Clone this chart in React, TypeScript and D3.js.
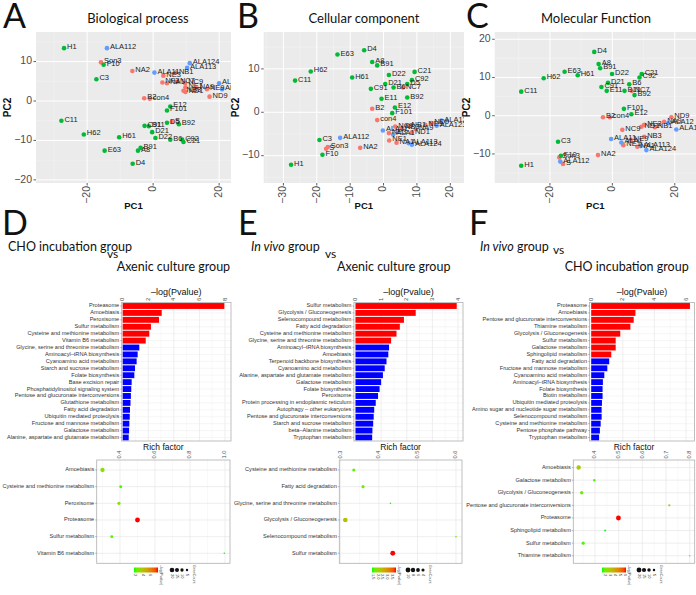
import React from "react";
import * as d3 from "d3";

const GREEN = "#00BA38";
const RED = "#F8766D";
const BLUE = "#619CFF";
const SANS = "'Liberation Sans', Arial, sans-serif";
const TITLE_FONT = "Lato, 'Open Sans', sans-serif";

type Pt = [string, number, number];

// ---------- PCA: Biological process ----------
const bpInVivo: Pt[] = [
  ["H1", -27, 13.4], ["F10", -15, 9.2], ["C3", -17.2, 5.5], ["C11", -27.8, -5.0], ["H62", -21, -8.5],
  ["H61", -10.3, -9.2], ["E63", -14.7, -12.6], ["C91", -2.6, -6.3], ["B11", -1.3, -6.4], ["D21", -0.3, -7.9],
  ["D22", 0.7, -9.4], ["B6", 5.2, -9.8], ["C92", 8.8, -9.8], ["C21", 9.2, -10.4], ["D5", 4.2, -5.5],
  ["B92", 7.8, -5.9], ["E12", 5.2, -1.4], ["F101", 4.2, -2.4], ["B91", -3.8, -11.9], ["A8", -4.6, -12.6],
  ["D4", -6.2, -15.9],
];
const bpCHO: Pt[] = [
  ["Son3", -15.8, 9.8], ["NA2", -6.3, 7.6], ["B2", -2.7, 0.7], ["con4", -1.0, 0.6], ["ND9", 17.1, 1.1],
  ["NE3", 3.1, 6.4], ["NF3", 2.8, 4.7], ["NA1", 4.2, 4.5], ["NC7", 7.2, 4.8], ["NB1", 6.9, 7.2],
  ["NC9", 9.7, 4.5], ["NE1", 9.8, 3.5], ["NB3", 9.2, 2.6], ["ND1", 9.8, 2.3], ["NA9", 13.2, 3.2],
  ["NE9", 16.3, 3.0], ["S", 5.7, -5.3],
];
const bpAxenic: Pt[] = [
  ["ALA112", -14, 13.4], ["ALA11", 0.4, 7.2], ["ALA124", 11.1, 9.6], ["ALA113", 10.3, 8.4],
  ["ALA123", 20, 4.5], ["ALA1", 20.9, 3.0],
];

// ---------- PCA: Cellular component ----------
const ccInVivo: Pt[] = [
  ["H1", -27.7, -12.1], ["C11", -26.5, 7.3], ["H62", -21.8, 9.4], ["E63", -13.8, 13.3], ["D4", -5.8, 14.3],
  ["A8", -3.4, 11.6], ["B91", -1.9, 10.8], ["H61", -9.4, 8.0], ["D22", 1.6, 8.6], ["C21", 9.3, 9.3],
  ["C92", 8.5, 7.4], ["D21", 0.5, 6.5], ["B6", 3.0, 5.7], ["D5", 7.1, 6.5], ["C91", -3.8, 5.4],
  ["E11", -0.6, 3.1], ["B92", 7.1, 3.4], ["E12", 3.4, 1.1], ["F101", 2.6, -0.2], ["C3", -19.2, -6.4],
  ["F10", -18.3, -9.8],
];
const ccCHO: Pt[] = [
  ["B2", -3.4, 0.8], ["con4", -1.9, -1.8], ["Son3", -16.7, -8.0], ["S", -17.2, -8.4], ["NA2", -7.0, -8.2],
  ["NC7", 5.8, 5.7], ["NE3", 1.6, -4.8], ["NE1", 1.7, -6.5], ["NA1", 3.9, -7.0], ["NC9", 3.5, -3.3],
  ["NB3", 5.5, -3.7], ["NB1", 7.5, -3.1], ["ND1", 8.5, -4.7], ["NA9", 9.7, -3.9], ["NE9", 12.5, -2.9],
  ["ND9", 14.3, -2.5],
];
const ccAxenic: Pt[] = [
  ["ALA112", -13, -5.9], ["ALA11", -0.2, -4.2], ["ALA1", 2.9, -5.1], ["ALA113", 7.5, -7.1],
  ["ALA124", 8.5, -7.5], ["ALA123", 15.9, -3.1], ["ALA12", 17.3, -1.9],
];

// ---------- PCA: Molecular Function ----------
const mfInVivo: Pt[] = [
  ["D4", -5.8, 16.7], ["A8", -4.4, 13.5], ["B91", -3.9, 12.4], ["E63", -15.3, 11.5], ["H61", -11.1, 10.6],
  ["H62", -22, 9.8], ["C11", -29.2, 6.3], ["D22", -0.1, 10.9], ["D21", -1.4, 8.6], ["C91", -3.5, 7.5],
  ["E11", -1.8, 6.5], ["B6", 5.4, 8.2], ["C21", 9.4, 10.9], ["C92", 8.7, 10.0], ["B11", 3.9, 6.5],
  ["B92", 7.1, 5.4], ["F101", 3.7, 1.8], ["E12", 6.1, 0.4], ["C3", -17.4, -6.8], ["H1", -29.2, -13.1],
  ["F10", -16.5, -10.5],
];
const mfCHO: Pt[] = [
  ["B2", -3, -0.4], ["con4", -0.8, -0.4], ["Son3", -17, -10.9], ["S", -15.8, -12.6], ["NA2", -4.6, -10.3],
  ["NC7", 6.2, 6.5], ["NC9", 3.2, -3.7], ["NE1", 3.5, -7.7], ["NA1", 8.0, -8.1], ["ND1", 9.3, -2.9],
  ["NE3", 10.2, -2.4], ["NB1", 13.6, -3.0], ["NA9", 16.6, -1.6], ["ND9", 18.9, -0.4], ["NB3", 10.2, -5.5],
  ["NE9", 5.9, -6.3],
];
const mfAxenic: Pt[] = [
  ["ALA11", -0.4, -6.1], ["ALA1", 2.9, -7.0], ["ALA113", 9.1, -7.9], ["ALA124", 10.9, -9.0],
  ["ALA12", 17.9, -2.0], ["ALA123", 20.5, -3.6], ["ALA112", -16.7, -12],
];

// ---------- Enrichment bars ----------
const dPathways = [
  "Proteasome", "Amoebiasis", "Peroxisome", "Sulfur metabolism", "Cysteine and methionine metabolism",
  "Vitamin B6 metabolism", "Glycine, serine and threonine metabolism", "Aminoacyl\u2013tRNA biosynthesis",
  "Cyanoamino acid metabolism", "Starch and sucrose metabolism", "Folate biosynthesis", "Base excision repair",
  "Phosphatidylinositol signaling system", "Pentose and glucuronate interconversions", "Glutathione metabolism",
  "Fatty acid degradation", "Ubiquitin mediated proteolysis", "Fructose and mannose metabolism",
  "Galactose metabolism", "Alanine, aspartate and glutamate metabolism",
];
const dLogP = [7.95, 3.05, 2.84, 2.21, 2.08, 1.8, 1.3, 1.17, 1.09, 0.96, 0.91, 0.7, 0.67, 0.64, 0.61, 0.57, 0.55, 0.52, 0.5, 0.47];
const dSig = 6;

const ePathways = [
  "Sulfur metabolism", "Glycolysis / Gluconeogenesis", "Selenocompound metabolism", "Fatty acid degradation",
  "Cysteine and methionine metabolism", "Glycine, serine and threonine metabolism", "Aminoacyl\u2013tRNA biosynthesis",
  "Amoebiasis", "Terpenoid backbone biosynthesis", "Cyanoamino acid metabolism",
  "Alanine, aspartate and glutamate metabolism", "Galactose metabolism", "Folate biosynthesis", "Peroxisome",
  "Protein processing in endoplasmic reticulum", "Autophagy \u2013 other eukaryotes",
  "Pentose and glucuronate interconversions", "Starch and sucrose metabolism", "beta\u2013Alanine metabolism",
  "Tryptophan metabolism",
];
const eLogP = [3.95, 2.35, 1.89, 1.73, 1.6, 1.39, 1.31, 1.28, 1.21, 1.14, 1.07, 1.0, 0.94, 0.88, 0.79, 0.73, 0.71, 0.69, 0.66, 0.65];
const eSig = 6;

const fPathways = [
  "Proteasome", "Amoebiasis", "Pentose and glucuronate interconversions", "Thiamine metabolism",
  "Glycolysis / Gluconeogenesis", "Sulfur metabolism", "Galactose metabolism", "Sphingolipid metabolism",
  "Fatty acid degradation", "Fructose and mannose metabolism", "Cyanoamino acid metabolism",
  "Aminoacyl\u2013tRNA biosynthesis", "Folate biosynthesis", "Biotin metabolism", "Ubiquitin mediated proteolysis",
  "Amino sugar and nucleotide sugar metabolism", "Selenocompound metabolism", "Cysteine and methionine metabolism",
  "Pentose phosphate pathway", "Tryptophan metabolism",
];
const fLogP = [6.25, 2.8, 2.69, 2.48, 1.84, 1.55, 1.55, 1.27, 1.14, 1.02, 0.83, 0.74, 0.72, 0.72, 0.68, 0.66, 0.66, 0.6, 0.55, 0.5];
const fSig = 8;

// ---------- Rich factor dot plots ----------
const dDotPathways = ["Amoebiasis", "Cysteine and methionine metabolism", "Peroxisome", "Proteasome", "Sulfur metabolism", "Vitamin B6 metabolism"];
const dDotRich = [0.30, 0.404, 0.394, 0.50, 0.353, 0.996];
const dDotCount = [17, 8, 9, 22, 8, 2];
const dDotLogP = [3.05, 2.08, 2.84, 7.95, 2.21, 1.8];

const eDotPathways = ["Cysteine and methionine metabolism", "Fatty acid degradation", "Glycine, serine and threonine metabolism", "Glycolysis / Gluconeogenesis", "Selenocompound metabolism", "Sulfur metabolism"];
const eDotRich = [0.335, 0.359, 0.43, 0.313, 0.60, 0.436];
const eDotCount = [4, 4, 1, 9, 1, 10];
const eDotLogP = [1.6, 1.73, 1.39, 2.35, 1.89, 3.95];

const fDotPathways = ["Amoebiasis", "Galactose metabolism", "Glycolysis / Gluconeogenesis", "Pentose and glucuronate interconversions", "Proteasome", "Sphingolipid metabolism", "Sulfur metabolism", "Thiamine metabolism"];
const fDotRich = [0.331, 0.397, 0.344, 0.714, 0.499, 0.443, 0.35, 0.80];
const fDotCount = [16, 5, 9, 4, 20, 3, 8, 2];
const fDotLogP = [2.8, 1.55, 1.84, 2.69, 6.25, 1.27, 1.55, 2.48];

const fmtMinus = (t: number) => (t < 0 ? "\u2212" + Math.abs(t) : String(t));

function minorTicks(ticks: number[], dom: number[]) {
  const s = ticks[1] - ticks[0];
  const out: number[] = [];
  for (let v = ticks[0] - s * 10 - s / 2; v <= dom[1]; v += s) if (v >= dom[0]) out.push(v);
  return out;
}

function PcaPanel(props: any) {
  const { id, letter, letterX, title, titleX, left, right, xDom, yDom, xTicks, yTicks, groups } = props;
  const top = 32, bottom = 183;
  const x = d3.scaleLinear().domain(xDom).range([left, right]);
  const y = d3.scaleLinear().domain(yDom).range([bottom, top]);
  const xMin = minorTicks(xTicks, xDom);
  const yMin = minorTicks(yTicks, yDom);
  const cx = (left + right) / 2;
  return (
    <g>
      <defs>
        <clipPath id={id}>
          <rect x={left} y={top} width={right - left} height={bottom - top} />
        </clipPath>
      </defs>
      <text x={letterX} y={28} fontFamily={TITLE_FONT} fontSize={34} fill="#111">{letter}</text>
      <text x={titleX} y={23.3} textAnchor="middle" fontFamily={TITLE_FONT} fontSize={13} fill="#111">{title}</text>
      <rect x={left} y={top} width={right - left} height={bottom - top} fill="#EBEBEB" />
      {xMin.map((v) => <line key={"xm" + v} x1={x(v)} x2={x(v)} y1={top} y2={bottom} stroke="#F5F5F5" strokeWidth={0.5} />)}
      {yMin.map((v) => <line key={"ym" + v} y1={y(v)} y2={y(v)} x1={left} x2={right} stroke="#F5F5F5" strokeWidth={0.5} />)}
      {xTicks.map((v: number) => <line key={"x" + v} x1={x(v)} x2={x(v)} y1={top} y2={bottom} stroke="#fff" strokeWidth={1} />)}
      {yTicks.map((v: number) => <line key={"y" + v} y1={y(v)} y2={y(v)} x1={left} x2={right} stroke="#fff" strokeWidth={1} />)}
      <g clipPath={`url(#${id})`}>
        {groups.map((g: any, gi: number) =>
          g.pts.map((p: Pt, i: number) => (
            <circle key={gi + "-" + i} cx={x(p[1])} cy={y(p[2])} r={2.3} fill={g.color} />
          ))
        )}
        {groups.map((g: any, gi: number) =>
          g.pts.map((p: Pt, i: number) => (
            <text key={"t" + gi + "-" + i} x={x(p[1]) + 3} y={y(p[2]) - 1} fontFamily={SANS} fontSize={7.5} fill="#222" dominantBaseline="middle">{p[0]}</text>
          ))
        )}
      </g>
      {yTicks.map((v: number) => (
        <g key={"yt" + v}>
          <line x1={left - 2.5} x2={left} y1={y(v)} y2={y(v)} stroke="#333" strokeWidth={0.8} />
          <text x={left - 4} y={y(v)} textAnchor="end" dominantBaseline="middle" fontFamily={SANS} fontSize={10.5} fill="#4D4D4D">{fmtMinus(v)}</text>
        </g>
      ))}
      {xTicks.map((v: number) => (
        <g key={"xt" + v}>
          <line x1={x(v)} x2={x(v)} y1={bottom} y2={bottom + 2.5} stroke="#333" strokeWidth={0.8} />
          <text transform={`translate(${x(v)},${bottom + 3}) rotate(-90)`} textAnchor="end" dominantBaseline="middle" fontFamily={SANS} fontSize={10.5} fill="#4D4D4D">{fmtMinus(v)}</text>
        </g>
      ))}
      <text x={cx} y={209} textAnchor="middle" fontFamily={SANS} fontSize={9.5} fontWeight="bold" fill="#111">PC1</text>
      <text transform={`translate(${left - 25},${(top + bottom) / 2}) rotate(-90)`} textAnchor="middle" fontFamily={SANS} fontSize={10} fontWeight="bold" fill="#111">PC2</text>
    </g>
  );
}

function BarPanel(props: any) {
  const { names, values, nSig, xDomain, xRange, boxL, boxR, ticks, minorStep } = props;
  const top = 302.5, bottom = 441;
  const x = d3.scaleLinear().domain(xDomain).range(xRange);
  const yb = d3.scaleBand().domain(names).range([top, bottom]).paddingInner(0.15).paddingOuter(0.08);
  const maxV = x.invert(boxR);
  const minors: number[] = [];
  for (let v = minorStep; v < maxV; v += minorStep * 2) minors.push(v);
  return (
    <g>
      <rect x={boxL} y={top} width={boxR - boxL} height={bottom - top} fill="#fff" />
      {minors.map((v) => <line key={"m" + v} x1={x(v)} x2={x(v)} y1={top} y2={bottom} stroke="#F3F3F3" strokeWidth={0.5} />)}
      {ticks.map((v: number) => <line key={"g" + v} x1={x(v)} x2={x(v)} y1={top} y2={bottom} stroke="#E6E6E6" strokeWidth={0.7} />)}
      {names.map((n: string) => <line key={"h" + n} x1={boxL} x2={boxR} y1={yb(n)! + yb.bandwidth() / 2} y2={yb(n)! + yb.bandwidth() / 2} stroke="#EDEDED" strokeWidth={0.5} />)}
      {names.map((n: string, i: number) => (
        <rect key={"b" + n} x={x(0)} y={yb(n)} width={x(values[i]) - x(0)} height={yb.bandwidth()} fill={i < nSig ? "#FF0000" : "#0000FF"} />
      ))}
      <rect x={boxL} y={top} width={boxR - boxL} height={bottom - top} fill="none" stroke="#B0B0B0" strokeWidth={0.8} />
      {names.map((n: string) => (
        <g key={"l" + n}>
          <line x1={boxL - 1.5} x2={boxL} y1={yb(n)! + yb.bandwidth() / 2} y2={yb(n)! + yb.bandwidth() / 2} stroke="#555" strokeWidth={0.4} />
          <text x={boxL - 2.5} y={yb(n)! + yb.bandwidth() / 2} textAnchor="end" dominantBaseline="middle" fontFamily={SANS} fontSize={5.6} fill="#333">{n}</text>
        </g>
      ))}
      {ticks.map((v: number) => (
        <text key={"t" + v} transform={`translate(${x(v)},${top - 1.5}) rotate(-90)`} textAnchor="start" dominantBaseline="middle" fontFamily={SANS} fontSize={6} fill="#4D4D4D">{v}</text>
      ))}
      <text x={(boxL + boxR) / 2} y={295} textAnchor="middle" fontFamily={SANS} fontSize={9} fill="#111">{"\u2013log(Pvalue)"}</text>
    </g>
  );
}

function DotPanel(props: any) {
  const { id, names, rich, counts, logp, xDomain, xRange, boxL, boxR, ticks, tickFmt, colorX, colorTicks, colorFmt, sizeX, sizeVals, maxCount } = props;
  const top = 460, bottom = 563.3;
  const x = d3.scaleLinear().domain(xDomain).range(xRange);
  const y = d3.scalePoint().domain(names).range([top, bottom]).padding(0.6);
  const lo = d3.min(logp as number[])!, hi = d3.max(logp as number[])!;
  const color = d3.scaleLinear<string>().domain([lo, hi]).range(["#00FF00", "#FF0000"]).interpolate(d3.interpolateLab);
  const size = d3.scaleSqrt().domain([0, maxCount]).range([0, 2.45]);
  const step = ticks[1] - ticks[0];
  const minors: number[] = [];
  for (let v = ticks[0] - step / 2; x(v) < boxR; v += step) if (x(v) > boxL) minors.push(v);
  const cbW = 24;
  const cb = d3.scaleLinear().domain([lo, hi]).range([colorX, colorX + cbW]);
  const stops = d3.range(0, 1.0001, 0.1);
  return (
    <g>
      <defs>
        <linearGradient id={id} x1="0" x2="1" y1="0" y2="0">
          {stops.map((s) => <stop key={s} offset={s} stopColor={color(lo + s * (hi - lo))} />)}
        </linearGradient>
      </defs>
      <rect x={boxL} y={top} width={boxR - boxL} height={bottom - top} fill="#fff" />
      {minors.map((v) => <line key={"m" + v} x1={x(v)} x2={x(v)} y1={top} y2={bottom} stroke="#F3F3F3" strokeWidth={0.5} />)}
      {ticks.map((v: number) => <line key={"g" + v} x1={x(v)} x2={x(v)} y1={top} y2={bottom} stroke="#E6E6E6" strokeWidth={0.7} />)}
      {names.map((n: string) => <line key={"h" + n} x1={boxL} x2={boxR} y1={y(n)} y2={y(n)} stroke="#E6E6E6" strokeWidth={0.7} />)}
      {names.map((n: string, i: number) => (
        <circle key={"c" + n} cx={x(rich[i])} cy={y(n)} r={size(counts[i])} fill={color(logp[i])} />
      ))}
      <rect x={boxL} y={top} width={boxR - boxL} height={bottom - top} fill="none" stroke="#B0B0B0" strokeWidth={0.8} />
      {names.map((n: string) => (
        <g key={"l" + n}>
          <line x1={boxL - 1.5} x2={boxL} y1={y(n)} y2={y(n)} stroke="#555" strokeWidth={0.4} />
          <text x={boxL - 2.5} y={y(n)} textAnchor="end" dominantBaseline="middle" fontFamily={SANS} fontSize={5.6} fill="#333">{n}</text>
        </g>
      ))}
      {ticks.map((v: number) => (
        <text key={"t" + v} transform={`translate(${x(v)},${top - 1.5}) rotate(-90)`} textAnchor="start" dominantBaseline="middle" fontFamily={SANS} fontSize={5.6} fill="#4D4D4D">{tickFmt(v)}</text>
      ))}
      <text x={(boxL + boxR) / 2} y={450} textAnchor="middle" fontFamily={SANS} fontSize={8.5} fill="#111">Rich factor</text>
      {/* colour legend */}
      <rect x={colorX} y={567.5} width={cbW} height={5} fill={`url(#${id})`} />
      {colorTicks.map((v: number) => (
        <text key={"ct" + v} transform={`translate(${cb(v)},${574}) rotate(90)`} textAnchor="start" dominantBaseline="middle" fontFamily={SANS} fontSize={4} fill="#333">{colorFmt(v)}</text>
      ))}
      <text transform={`translate(${colorX + cbW + 3},${565}) rotate(90)`} textAnchor="start" dominantBaseline="middle" fontFamily={SANS} fontSize={3.6} fill="#333">{"\u2013log(Pvalue)"}</text>
      {/* size legend */}
      {sizeVals.map((v: number, i: number) => (
        <g key={"s" + v}>
          <circle cx={sizeX + i * 5} cy={570} r={size(v)} fill="#111" />
          <text transform={`translate(${sizeX + i * 5},${574}) rotate(90)`} textAnchor="start" dominantBaseline="middle" fontFamily={SANS} fontSize={4} fill="#333">{v}</text>
        </g>
      ))}
      <text transform={`translate(${sizeX + sizeVals.length * 5 + 2},${565}) rotate(90)`} textAnchor="start" dominantBaseline="middle" fontFamily={SANS} fontSize={3.6} fill="#333">GeneCount</text>
    </g>
  );
}

function CompTitle(props: any) {
  const { letter, letterX, line1, line1X, vsX, vsY, line2, line2X, italic } = props;
  return (
    <g fontFamily={TITLE_FONT} fill="#111">
      <text x={letterX} y={235} fontSize={34}>{letter}</text>
      <text x={line1X} y={250.5} fontSize={12.5}>
        {italic ? <tspan fontStyle="italic">In vivo</tspan> : null}
        {italic ? " group" : line1}
      </text>
      <text x={vsX} y={vsY} fontSize={12}>vs</text>
      <text x={line2X} y={270.5} fontSize={12.5}>{line2}</text>
    </g>
  );
}

export default function App() {
  const f1 = (v: number) => v.toFixed(1);
  const f0 = (v: number) => String(v);
  return (
    <svg width={696} height={595} style={{ position: "absolute", left: 0, top: 0, background: "#fff" }}>
      <rect width={696} height={595} fill="#fff" />
      <PcaPanel id="clipA" letter="A" letterX={3} title="Biological process" titleX={138} left={36} right={231}
        xDom={[-35.5, 23.6]} yDom={[-20.8, 17.5]} xTicks={[-20, 0, 20]} yTicks={[-20, -10, 0, 10]}
        groups={[{ pts: bpCHO, color: RED }, { pts: bpInVivo, color: GREEN }, { pts: bpAxenic, color: BLUE }]} />
      <PcaPanel id="clipB" letter="B" letterX={237} title="Cellular component" titleX={364} left={263.7} right={464}
        xDom={[-35.9, 24.1]} yDom={[-16.3, 18.5]} xTicks={[-30, -20, -10, 0, 10, 20]} yTicks={[-10, 0, 10]}
        groups={[{ pts: ccCHO, color: RED }, { pts: ccInVivo, color: GREEN }, { pts: ccAxenic, color: BLUE }]} />
      <PcaPanel id="clipC" letter="C" letterX={466} title="Molecular Function" titleX={596} left={494.7} right={696}
        xDom={[-37.7, 26.8]} yDom={[-17.6, 21.9]} xTicks={[-20, 0, 20]} yTicks={[-10, 0, 10, 20]}
        groups={[{ pts: mfCHO, color: RED }, { pts: mfInVivo, color: GREEN }, { pts: mfAxenic, color: BLUE }]} />

      <CompTitle letter="D" letterX={2} line1="CHO incubation group" line1X={8} vsX={107} vsY={258.3} line2="Axenic culture group" line2X={116.7} />
      <CompTitle letter="E" letterX={238} italic line1X={251} vsX={325} vsY={258.3} line2="Axenic culture group" line2X={337} />
      <CompTitle letter="F" letterX={469} italic line1X={480} vsX={553} vsY={254} line2="CHO incubation group" line2X={564.7} />

      <BarPanel names={dPathways} values={dLogP} nSig={dSig} xDomain={[0, 8]} xRange={[122.7, 225]} boxL={121.7} boxR={231} ticks={[0, 2, 4, 6, 8]} minorStep={1} />
      <BarPanel names={ePathways} values={eLogP} nSig={eSig} xDomain={[0, 4]} xRange={[355.5, 458]} boxL={353.9} boxR={463} ticks={[0, 1, 2, 3, 4]} minorStep={0.5} />
      <BarPanel names={fPathways} values={fLogP} nSig={fSig} xDomain={[0, 6]} xRange={[591.2, 686]} boxL={589.6} boxR={694.5} ticks={[0, 2, 4, 6]} minorStep={1} />

      <DotPanel id="gradD" names={dDotPathways} rich={dDotRich} counts={dDotCount} logp={dDotLogP}
        xDomain={[0.4, 1.0]} xRange={[120, 225]} boxL={96.7} boxR={230} ticks={[0.4, 0.6, 0.8, 1.0]} tickFmt={f1}
        colorX={134} colorTicks={[2, 4, 6]} colorFmt={f0} sizeX={172} sizeVals={[20, 15, 10, 5]} maxCount={22} />
      <DotPanel id="gradE" names={eDotPathways} rich={eDotRich} counts={eDotCount} logp={eDotLogP}
        xDomain={[0.3, 0.6]} xRange={[340.3, 456]} boxL={339.3} boxR={462} ticks={[0.3, 0.4, 0.5, 0.6]} tickFmt={f1}
        colorX={372} colorTicks={[1.5, 2.0, 2.5, 3.0, 3.5]} colorFmt={f1} sizeX={408} sizeVals={[10, 8, 6, 4]} maxCount={10} />
      <DotPanel id="gradF" names={fDotPathways} rich={fDotRich} counts={fDotCount} logp={fDotLogP}
        xDomain={[0.4, 0.8]} xRange={[595, 689.7]} boxL={573.3} boxR={694.7} ticks={[0.4, 0.5, 0.6, 0.7, 0.8]} tickFmt={f1}
        colorX={602} colorTicks={[2, 3, 4, 5, 6]} colorFmt={f0} sizeX={639} sizeVals={[20, 15, 10, 5]} maxCount={20} />
    </svg>
  );
}
